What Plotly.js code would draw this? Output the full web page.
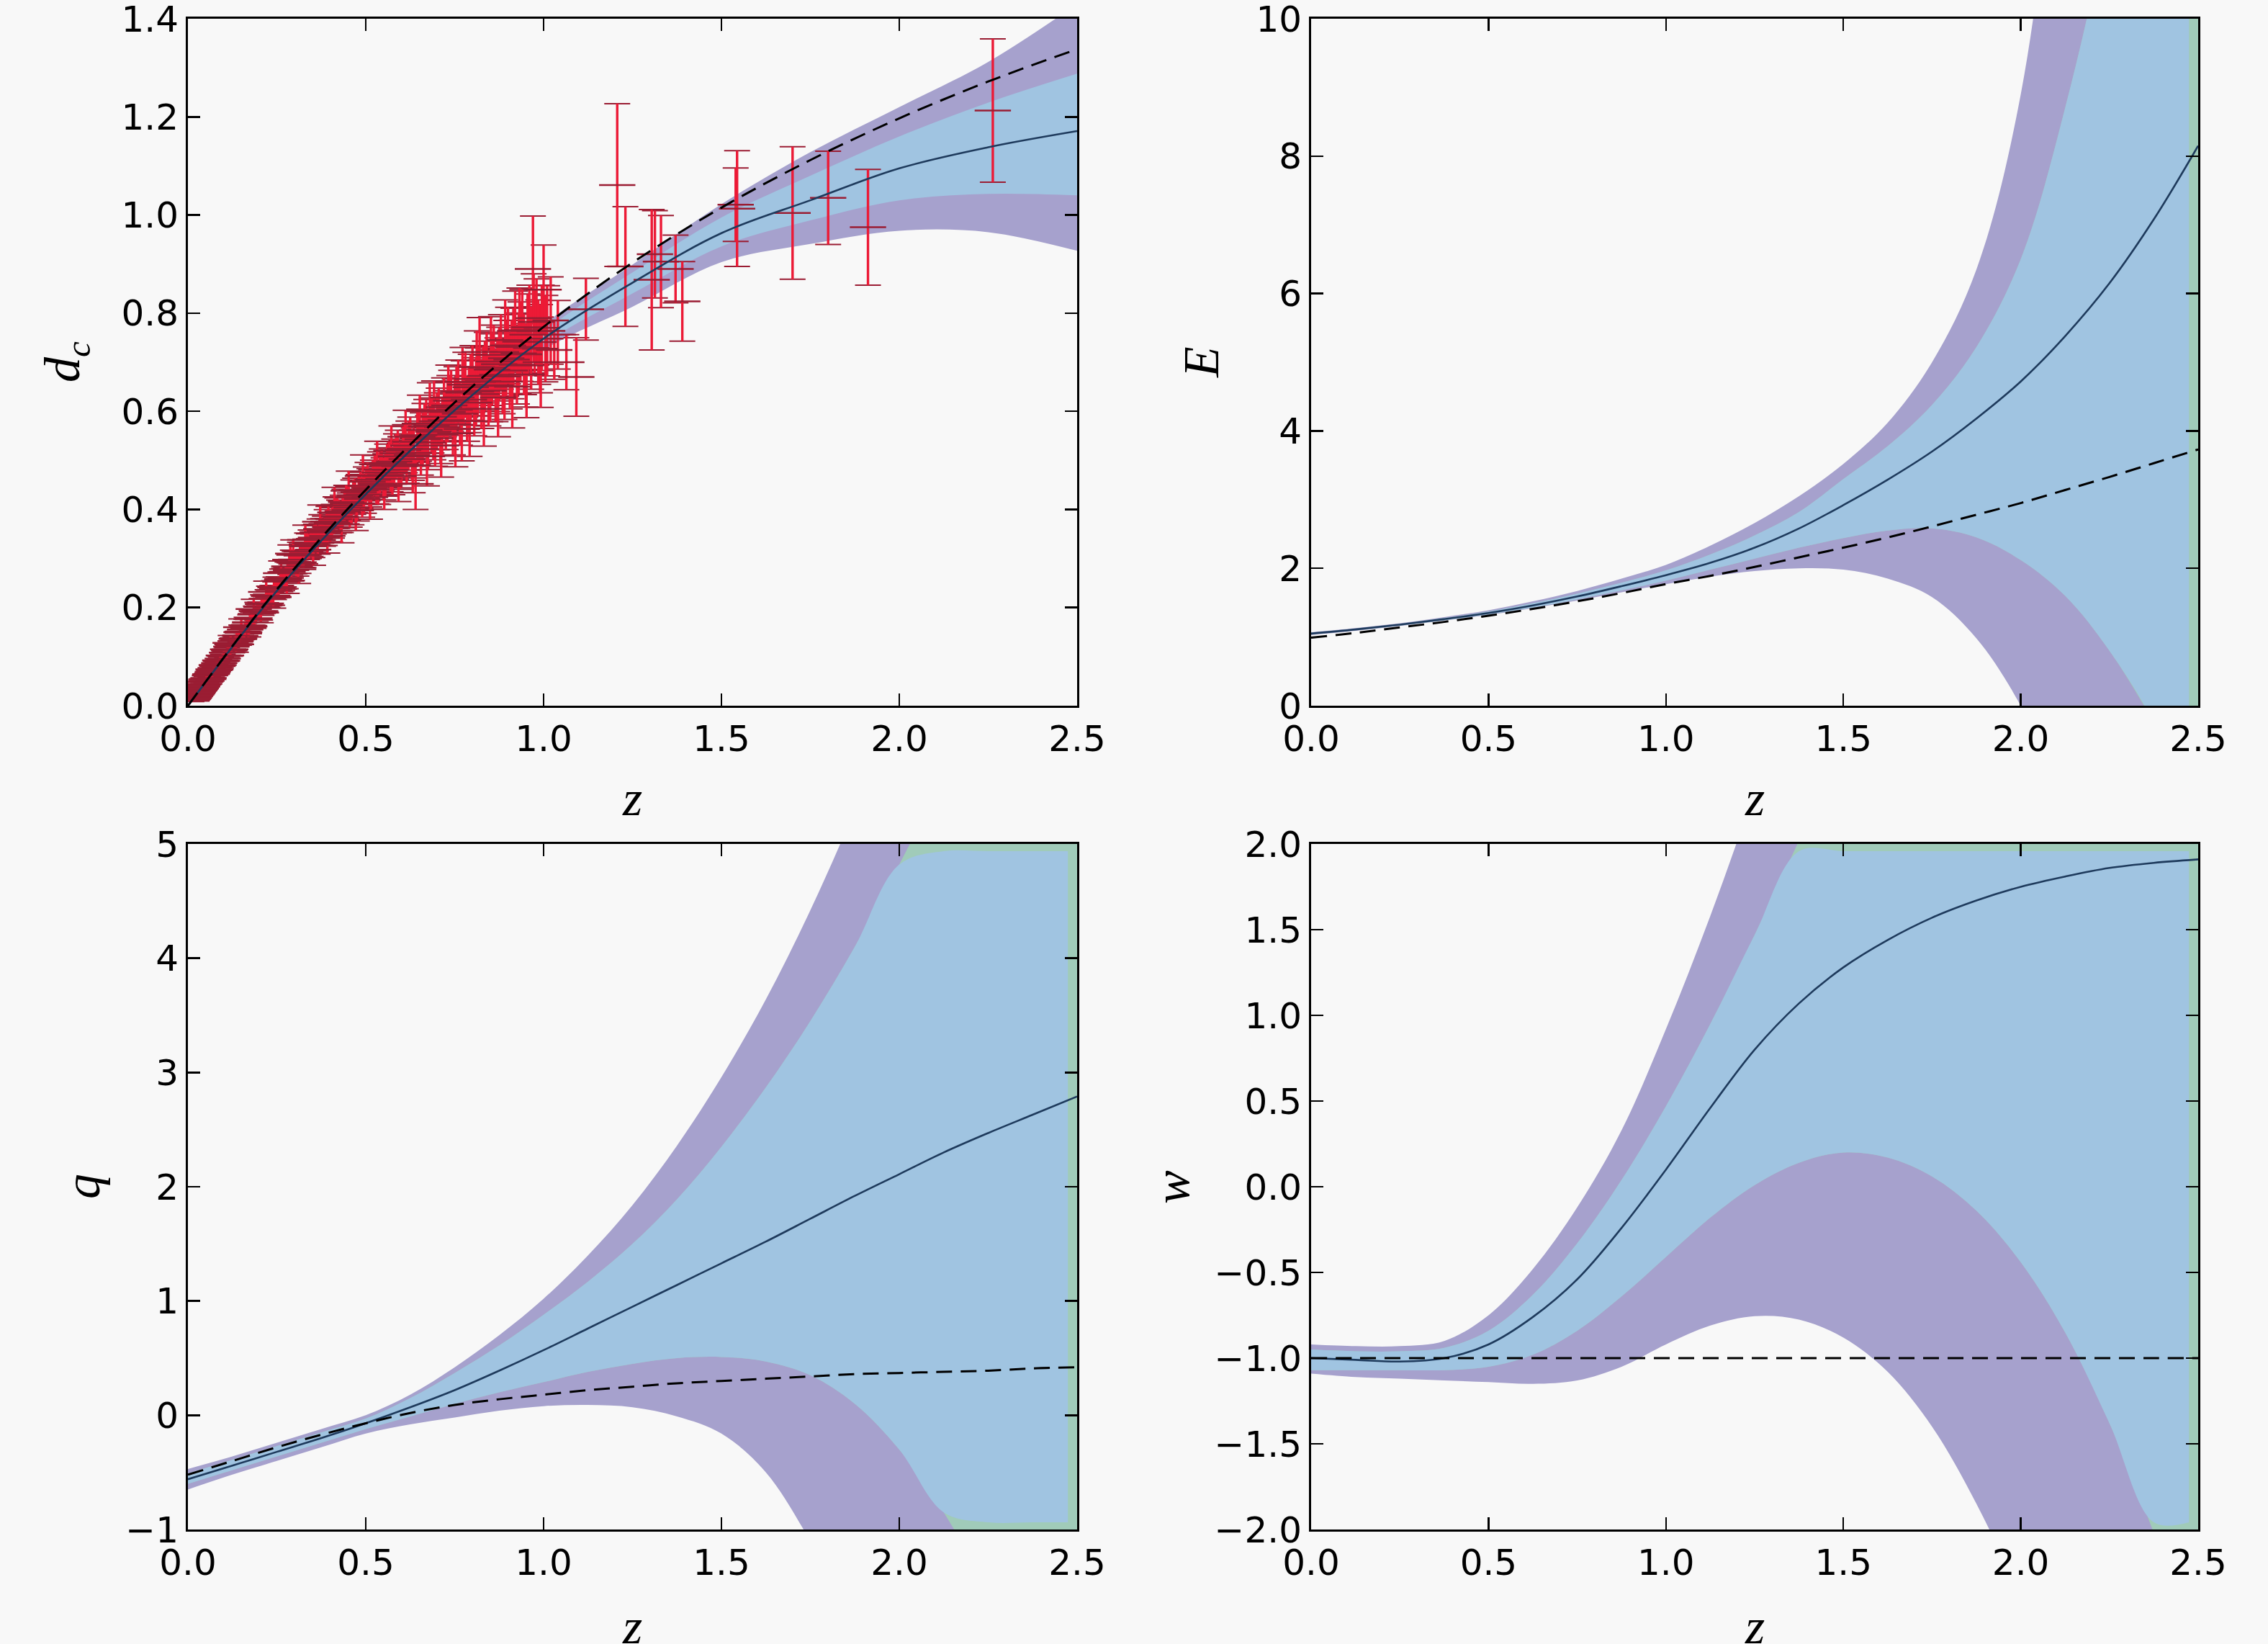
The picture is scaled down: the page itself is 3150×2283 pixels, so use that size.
<!DOCTYPE html>
<html><head><meta charset="utf-8">
<script src="https://cdn.plot.ly/plotly-3.0.1.min.js"></script>
<style>html,body{margin:0;padding:0;background:#f8f8f8;} #chart{width:3150px;height:2283px;}</style>
</head><body><div id="chart"></div>
<script>
// ---------- tick values ----------
const zTicks = [0, 0.5, 1.0, 1.5, 2.0, 2.5];
const dcTicks = [0, 0.2, 0.4, 0.6, 0.8, 1.0, 1.2, 1.4];
const eTicks = [0, 2, 4, 6, 8, 10];
const qTicks = [-1, 0, 1, 2, 3, 4, 5];
const wTicks = [-2, -1.5, -1, -0.5, 0, 0.5, 1, 1.5, 2];

// ---------- d_c panel ----------
const zDc      = [0, 0.25, 0.5, 0.75, 1.0, 1.25, 1.5, 1.75, 2.0, 2.25, 2.5];
const dcDash   = [0, 0.237, 0.440, 0.618, 0.772, 0.903, 1.015, 1.112, 1.197, 1.272, 1.338];
const dcSolid  = [0, 0.234, 0.431, 0.602, 0.748, 0.862, 0.963, 1.030, 1.095, 1.138, 1.171];
const dcUp2    = [0.004, 0.240, 0.441, 0.612, 0.777, 0.899, 1.022, 1.128, 1.220, 1.312, 1.430];
const dcUp1    = [0.002, 0.237, 0.436, 0.607, 0.763, 0.883, 0.995, 1.080, 1.160, 1.229, 1.288];
const dcLo1    = [-0.002, 0.231, 0.426, 0.597, 0.738, 0.840, 0.936, 0.989, 1.030, 1.043, 1.040];
const dcLo2    = [-0.004, 0.228, 0.421, 0.592, 0.725, 0.813, 0.904, 0.941, 0.968, 0.965, 0.927];

// data points (z, d_c, error)
const snZ = [0.010,0.012,0.014,0.015,0.016,0.017,0.019,0.020,0.022,0.023,0.025,0.026,0.028,0.030,0.032,0.034,0.036,0.038,0.040,0.043,0.046,0.049,0.052,0.055,0.058,0.062,0.066,0.070,0.074,0.078,0.083,0.088,0.093,0.098,
0.104,0.110,0.116,0.122,0.128,0.134,0.140,0.147,0.154,0.161,0.168,0.175,0.183,0.191,0.199,0.207,0.215,0.224,0.233,0.242,0.251,0.260,0.270,0.280,0.290,0.300,0.311,0.320,0.330,
0.340,0.350,0.360,0.370,0.380,0.390,0.400,0.410,0.420,0.430,0.440,0.450,0.460,0.470,0.480,0.490,0.500,0.510,0.520,0.530,0.540,0.550,0.560,0.570,0.580,0.590,0.600,
0.610,0.620,0.630,0.640,0.650,0.660,0.670,0.680,0.690,0.700,0.710,0.720,0.730,0.740,0.750,0.760,0.770,0.780,0.790,0.800,0.810,0.820,0.830,0.840,0.850,0.860,0.870,0.880,0.890,0.900,0.910,0.920,0.930,0.940,0.950,0.960,0.970,0.980,0.990,1.000,1.010,1.030,
1.064,1.092,1.119,1.207,1.230,1.304,1.313,1.330,1.371,1.390,1.540,1.544,1.700,1.800,1.912,2.263,
0.052,0.057,0.063,0.068,0.072,0.077,0.081,0.086,0.091,0.096,0.101,0.107,0.113,0.119,0.125,0.131,0.137,0.144,0.151,0.158,0.165,0.172,0.179,0.187,0.195,0.203,0.211,0.219,0.228,0.237,0.246,0.255,0.265,0.275,0.285,0.288,0.295,
0.305,0.315,0.325,0.335,0.345,0.355,0.365,0.375,0.385,0.395,0.405,0.415,0.425,0.435,0.445,0.455,0.465,0.475,0.485,0.495,0.505,0.515,0.525,0.535,0.545,0.555,0.565,0.575,0.585,0.595,
0.605,0.615,0.625,0.635,0.645,0.655,0.665,0.675,0.685,0.695,0.705,0.715,0.725,0.735,0.745,0.755,0.765,0.775,0.785,0.795,0.805,0.815,0.825,0.835,0.845,0.855,0.865,0.875,0.885,0.895,0.905,0.915,0.925,0.935,0.945,0.955,0.965,0.975,0.985,0.995,1.005,1.020,1.040,
0.120,0.135,0.150,0.170,0.185,0.205,0.220,0.240,0.262,0.278,0.296,0.310,0.330,0.352,0.372,0.392,0.412,0.432,0.452,0.472,0.492,0.512,0.532,0.552,0.572,0.592,0.612,0.632,0.652,0.672,0.692,0.712,0.732,0.752,0.772,0.792,0.812,0.832,0.852,0.872,0.892,0.912,0.932,0.952,0.972,0.992];
const snD = [0.0098,0.0121,0.0137,0.0152,0.0160,0.0166,0.0190,0.0197,0.0221,0.0225,0.0247,0.0262,0.0274,0.0301,0.0312,0.0339,0.0352,0.0381,0.0392,0.0428,0.0449,0.0489,0.0508,0.0548,0.0566,0.0615,0.0643,0.0694,0.0722,0.0771,0.0806,0.0869,0.0905,0.0962,
0.1012,0.1081,0.1127,0.1203,0.1235,0.1318,0.1362,0.1428,0.1510,0.1553,0.1638,0.1702,0.1761,0.1870,0.1918,0.2013,0.2062,0.2181,0.2227,0.2356,0.2395,0.2527,0.2586,0.2728,0.2763,0.2918,0.2925,0.3058,0.3143,
0.3252,0.3281,0.3427,0.3535,0.3532,0.3706,0.3642,0.3801,0.3925,0.3848,0.4081,0.4125,0.4036,0.4287,0.4352,0.4211,0.4483,0.4440,0.4605,0.4524,0.4752,0.4623,0.4890,0.4808,0.4975,0.5142,0.4921,
0.5236,0.5301,0.5104,0.4520,0.5512,0.5428,0.5690,0.6021,0.5583,0.5796,0.5524,0.6082,0.5988,0.6215,0.6030,0.6405,0.5640,0.6541,0.6236,0.6658,0.6402,0.7210,0.6612,0.6890,0.6520,0.7015,0.6744,0.7210,0.6602,0.7340,0.7055,0.7640,0.7181,0.7650,0.6935,0.7712,0.8900,0.7820,0.7275,0.8480,0.7640,0.7250,
0.700,0.670,0.808,1.061,0.895,0.868,0.920,0.905,0.890,0.824,1.021,1.013,1.004,1.035,0.975,1.213,
0.0536,0.0540,0.0642,0.0655,0.0741,0.0738,0.0830,0.0828,0.0925,0.0918,0.1025,0.1022,0.1150,0.1148,0.1248,0.1256,0.1362,0.1375,0.1495,0.1502,0.1640,0.1628,0.1765,0.1782,0.1925,0.1928,0.2071,0.2082,0.2235,0.2246,0.2410,0.2418,0.2565,0.2605,0.2840,0.2975,0.2930,
0.2890,0.3082,0.3075,0.3250,0.3312,0.3401,0.3380,0.3602,0.3565,0.3752,0.3725,0.3935,0.3860,0.3960,0.4150,0.3988,0.4250,0.4125,0.4390,0.4302,0.4565,0.4410,0.4690,0.4512,0.4810,0.4701,0.4945,0.4750,0.5080,0.4880,
0.5210,0.5025,0.5380,0.5150,0.5480,0.5230,0.5620,0.5360,0.5710,0.5450,0.5890,0.5680,0.5820,0.6120,0.5730,0.6280,0.5950,0.6380,0.6050,0.6490,0.6180,0.6600,0.6350,0.6720,0.6420,0.6850,0.6530,0.6960,0.6710,0.7080,0.6830,0.7310,0.6950,0.7420,0.7160,0.7560,0.7290,0.7630,0.7410,0.7700,0.7480,0.7850,0.7560,
0.128,0.125,0.160,0.158,0.197,0.190,0.232,0.222,0.270,0.255,0.310,0.278,0.338,0.318,0.375,0.346,0.408,0.370,0.438,0.398,0.468,0.425,0.492,0.448,0.520,0.468,0.548,0.490,0.575,0.508,0.600,0.530,0.628,0.555,0.660,0.580,0.690,0.605,0.715,0.628,0.745,0.650,0.765,0.675,0.790,0.700];
const snE = [0.0015,0.0016,0.0018,0.0018,0.0020,0.0020,0.0022,0.0022,0.0025,0.0025,0.0028,0.0028,0.0030,0.0032,0.0034,0.0036,0.0038,0.0040,0.0042,0.0045,0.0048,0.0050,0.0052,0.0055,0.0058,0.0060,0.0064,0.0068,0.0070,0.0074,0.0078,0.0082,0.0086,0.0090,
0.009,0.010,0.010,0.011,0.011,0.012,0.012,0.013,0.013,0.014,0.014,0.015,0.015,0.016,0.016,0.017,0.017,0.018,0.018,0.019,0.019,0.020,0.021,0.021,0.022,0.023,0.023,0.024,0.025,
0.025,0.026,0.027,0.027,0.028,0.029,0.030,0.030,0.031,0.032,0.033,0.034,0.035,0.035,0.036,0.037,0.038,0.039,0.040,0.041,0.042,0.043,0.044,0.045,0.046,0.047,0.048,
0.049,0.050,0.051,0.052,0.053,0.054,0.055,0.056,0.057,0.058,0.059,0.060,0.061,0.062,0.063,0.064,0.065,0.066,0.067,0.068,0.069,0.070,0.071,0.072,0.073,0.074,0.075,0.076,0.077,0.078,0.080,0.081,0.082,0.083,0.085,0.086,0.108,0.088,0.090,0.091,0.092,0.060,
0.056,0.080,0.063,0.166,0.122,0.143,0.089,0.094,0.069,0.081,0.075,0.118,0.135,0.095,0.118,0.146,
0.006,0.006,0.007,0.007,0.008,0.008,0.009,0.009,0.010,0.010,0.011,0.011,0.012,0.012,0.013,0.013,0.014,0.014,0.015,0.015,0.016,0.016,0.017,0.017,0.018,0.018,0.019,0.019,0.020,0.020,0.021,0.021,0.022,0.022,0.023,0.030,0.024,
0.025,0.025,0.026,0.027,0.027,0.028,0.029,0.029,0.030,0.031,0.031,0.032,0.033,0.033,0.034,0.035,0.035,0.036,0.037,0.038,0.039,0.040,0.041,0.041,0.042,0.043,0.044,0.045,0.046,0.047,
0.048,0.049,0.050,0.051,0.052,0.053,0.054,0.055,0.056,0.057,0.058,0.059,0.060,0.061,0.062,0.063,0.064,0.065,0.066,0.067,0.068,0.069,0.070,0.071,0.072,0.073,0.074,0.075,0.076,0.077,0.078,0.079,0.080,0.081,0.082,0.083,0.084,0.085,0.086,0.087,0.088,0.089,0.070,
0.015,0.016,0.017,0.018,0.020,0.021,0.022,0.023,0.025,0.026,0.028,0.029,0.030,0.032,0.034,0.035,0.037,0.038,0.040,0.041,0.043,0.045,0.047,0.048,0.050,0.052,0.054,0.056,0.058,0.060,0.062,0.064,0.066,0.068,0.070,0.072,0.074,0.076,0.078,0.080,0.082,0.084,0.086,0.088,0.090,0.092];

// ---------- E panel ----------
const zE     = [0, 0.125, 0.25, 0.375, 0.5, 0.625, 0.75, 0.875, 1.0, 1.125, 1.25, 1.375, 1.5, 1.625, 1.75, 1.875, 2.0, 2.125, 2.25, 2.375, 2.5];
const eDash  = [0.99, 1.06, 1.14, 1.22, 1.31, 1.41, 1.52, 1.64, 1.77, 1.89, 2.02, 2.16, 2.30, 2.45, 2.61, 2.78, 2.95, 3.14, 3.33, 3.53, 3.73];
const eSolid = [1.05, 1.11, 1.18, 1.26, 1.35, 1.46, 1.59, 1.74, 1.90, 2.08, 2.30, 2.58, 2.92, 3.29, 3.70, 4.18, 4.72, 5.38, 6.15, 7.08, 8.15];
const eUp2   = [1.07, 1.13, 1.20, 1.29, 1.39, 1.52, 1.67, 1.85, 2.05, 2.33, 2.66, 3.05, 3.52, 4.12, 5.00, 6.35, 8.90, 14.0, 21.0, 30.0, 40.0];
const eUp1   = [1.06, 1.12, 1.19, 1.275, 1.37, 1.49, 1.63, 1.79, 1.97, 2.20, 2.48, 2.82, 3.30, 3.78, 4.38, 5.22, 6.50, 8.70, 11.6, 16.0, 22.0];
const eLo1   = [1.04, 1.10, 1.17, 1.245, 1.33, 1.43, 1.55, 1.68, 1.82, 1.98, 2.14, 2.30, 2.44, 2.55, 2.58, 2.45, 2.12, 1.60, 0.80, -0.25, -1.50];
const eLo2   = [1.03, 1.09, 1.16, 1.24, 1.32, 1.42, 1.53, 1.65, 1.77, 1.88, 1.96, 2.00, 1.98, 1.85, 1.58, 0.98, 0.00, -1.40, -3.00, -4.80, -7.00];

// ---------- q panel ----------
const zQ     = [0, 0.125, 0.25, 0.375, 0.5, 0.625, 0.75, 0.875, 1.0, 1.125, 1.25, 1.375, 1.5, 1.625, 1.75, 1.875, 2.0, 2.125, 2.25, 2.375, 2.5];
const qDash  = [-0.52, -0.40, -0.28, -0.17, -0.07, 0.02, 0.09, 0.14, 0.18, 0.22, 0.25, 0.28, 0.30, 0.32, 0.34, 0.36, 0.37, 0.38, 0.39, 0.41, 0.42];
const qSolid = [-0.56, -0.44, -0.32, -0.20, -0.07, 0.07, 0.22, 0.39, 0.57, 0.76, 0.95, 1.14, 1.33, 1.52, 1.72, 1.92, 2.11, 2.30, 2.47, 2.63, 2.79];
const qUp2   = [-0.47, -0.36, -0.24, -0.12, 0.00, 0.18, 0.42, 0.70, 1.02, 1.40, 1.84, 2.36, 2.96, 3.64, 4.42, 5.30, 6.28, 7.36, 8.54, 9.80, 11.2];
const qUp1   = [-0.51, -0.39, -0.27, -0.15, -0.03, 0.15, 0.37, 0.61, 0.88, 1.17, 1.50, 1.89, 2.35, 2.87, 3.45, 4.10, 4.82, 5.60, 6.43, 7.30, 8.20];
const qLo1   = [-0.60, -0.48, -0.36, -0.24, -0.12, -0.01, 0.10, 0.20, 0.29, 0.38, 0.45, 0.50, 0.51, 0.47, 0.35, 0.10, -0.30, -0.85, -1.55, -2.35, -3.20];
const qLo2   = [-0.65, -0.52, -0.40, -0.28, -0.16, -0.08, -0.02, 0.04, 0.08, 0.09, 0.07, -0.01, -0.16, -0.50, -1.10, -1.80, -2.60, -3.50, -4.50, -5.70, -7.00];

// ---------- w panel ----------
const zW     = [0, 0.125, 0.25, 0.375, 0.5, 0.625, 0.75, 0.875, 1.0, 1.125, 1.25, 1.375, 1.5, 1.625, 1.75, 1.875, 2.0, 2.125, 2.25, 2.375, 2.5];
const wDash  = [-1, -1, -1, -1, -1, -1, -1, -1, -1, -1, -1, -1, -1, -1, -1, -1, -1, -1, -1, -1, -1];
const wSolid = [-1.0, -1.01, -1.02, -1.0, -0.92, -0.76, -0.54, -0.24, 0.10, 0.46, 0.80, 1.07, 1.28, 1.44, 1.57, 1.67, 1.75, 1.81, 1.86, 1.89, 1.91];
const wUp2   = [-0.92, -0.93, -0.93, -0.90, -0.75, -0.48, -0.12, 0.33, 0.92, 1.58, 2.30, 3.00, 3.70, 4.45, 5.30, 6.20, 7.10, 8.00, 9.00, 10.0, 11.0];
const wUp1   = [-0.95, -0.96, -0.96, -0.94, -0.84, -0.63, -0.33, 0.04, 0.47, 0.95, 1.47, 2.02, 2.60, 3.20, 3.80, 4.40, 5.00, 5.60, 6.20, 6.80, 7.40];
const wLo1   = [-1.07, -1.07, -1.07, -1.07, -1.05, -0.98, -0.84, -0.64, -0.41, -0.18, 0.01, 0.14, 0.20, 0.17, 0.06, -0.14, -0.44, -0.85, -1.38, -2.02, -2.75];
const wLo2   = [-1.09, -1.11, -1.12, -1.13, -1.14, -1.15, -1.13, -1.05, -0.92, -0.81, -0.755, -0.775, -0.88, -1.08, -1.40, -1.85, -2.40, -3.05, -3.80, -4.60, -5.50];

// ---------- styles ----------
const C = {bg:'#f8f8f8', purple:'#a6a1cd', blue:'#a0c4e1', green:'#a0cbb9',
           solid:'#1e3a5c', dash:'#000000', stem:'#ec1a36', cap:'#9a1d33'};

const traces = [];
function addBands(n, z, u2, u1, l1, l2, yr, strip) {
  const xa = n === 1 ? 'x' : 'x' + n, ya = n === 1 ? 'y' : 'y' + n;
  const base = {xaxis: xa, yaxis: ya, mode: 'lines', hoverinfo: 'skip', showlegend: false};
  const sp = c => ({shape: 'spline', smoothing: 1, width: 0, color: c});
  traces.push({...base, x: z, y: l2, line: sp(C.purple)});
  traces.push({...base, x: z, y: u2, line: sp(C.purple), fill: 'tonexty', fillcolor: C.purple});
  let zb = z, u1b = u1, l1b = l1;
  if (strip) {
    traces.push({...base, x: z, y: l1, line: sp(C.green)});
    traces.push({...base, x: z, y: u1, line: sp(C.green), fill: 'tonexty', fillcolor: C.green});
    const zmax = z[z.length - 1];
    zb = z.map(v => Math.min(v, zmax - strip.right));
    if (strip.top > 0) {
      const span = yr[1] - yr[0];
      u1b = u1.map(v => Math.min(v, yr[1] - strip.top * span));
      l1b = l1.map(v => Math.max(v, yr[0] + strip.top * span));
    }
  }
  traces.push({...base, x: zb, y: l1b, line: sp(C.blue)});
  traces.push({...base, x: zb, y: u1b, line: sp(C.blue), fill: 'tonexty', fillcolor: C.blue});
}
function addLines(n, z, solid, dash) {
  const xa = n === 1 ? 'x' : 'x' + n, ya = n === 1 ? 'y' : 'y' + n;
  const base = {xaxis: xa, yaxis: ya, mode: 'lines', hoverinfo: 'skip', showlegend: false};
  traces.push({...base, x: z, y: solid, line: {shape: 'spline', smoothing: 1, width: 2.6, color: C.solid}});
  traces.push({...base, x: z, y: dash, line: {shape: 'spline', smoothing: 1, width: 3, color: C.dash, dash: '22px,12px'}});
}

// panel 1: d_c
addBands(1, zDc, dcUp2, dcUp1, dcLo1, dcLo2, [0, 1.4], null);
traces.push({xaxis: 'x', yaxis: 'y', x: snZ, y: snD, mode: 'markers', hoverinfo: 'skip', showlegend: false,
  marker: {size: 2, color: C.cap},
  error_y: {type: 'data', array: snE, visible: true, color: C.cap, thickness: 2, width: 18}});
traces.push({xaxis: 'x', yaxis: 'y', x: snZ, y: snD, mode: 'markers', hoverinfo: 'skip', showlegend: false,
  marker: {symbol: 'line-ew', size: 36, color: C.cap, line: {width: 2.5, color: C.cap}},
  error_y: {type: 'data', array: snE, visible: true, color: C.stem, thickness: 3.4, width: 0}});
addLines(1, zDc, dcSolid, dcDash);

// panel 2: E
addBands(2, zE, eUp2, eUp1, eLo1, eLo2, [0, 10], {right: 0.026, top: 0});
addLines(2, zE, eSolid, eDash);
// panel 3: q
addBands(3, zQ, qUp2, qUp1, qLo1, qLo2, [-1, 5], {right: 0.026, top: 0.0105});
addLines(3, zQ, qSolid, qDash);
// panel 4: w
addBands(4, zW, wUp2, wUp1, wLo1, wLo2, [-2, 2], {right: 0.026, top: 0.0105});
addLines(4, zW, wSolid, wDash);

// ---------- axes ----------
const tickFont = {family: 'DejaVu Sans', size: 50, color: '#000'};
function axis(extra) {
  return Object.assign({ticks: 'inside', ticklen: 17, tickwidth: 2.5, tickcolor: '#000',
    mirror: 'allticks', showline: true, linecolor: '#000', linewidth: 3,
    showgrid: false, zeroline: false, tickfont: tickFont, tickmode: 'array',
    ticklabeloverflow: 'allow', fixedrange: true}, extra);
}
const xL = [0.08286, 0.47492], xR = [0.57810, 0.96921];
const yT = [0.57074, 0.98861], yB = [0.06964, 0.48664];
const xCommon = {range: [0, 2.5], tickvals: zTicks, tickformat: '.1f'};

const titleFont = {family: 'Liberation Serif', size: 70, color: '#000'};
function ann(text, x, y, rot) {
  return {text: text, x: x / 3150, y: 1 - y / 2283, xref: 'paper', yref: 'paper', showarrow: false,
    xanchor: 'center', yanchor: 'middle', textangle: rot, font: titleFont};
}

const layout = {
  width: 3150, height: 2283, margin: {l: 0, r: 0, t: 0, b: 0},
  paper_bgcolor: C.bg, plot_bgcolor: C.bg, showlegend: false,
  xaxis:  axis({...xCommon, domain: xL, anchor: 'y'}),
  yaxis:  axis({domain: yT, anchor: 'x', range: [0, 1.4], tickvals: dcTicks, tickformat: '.1f'}),
  xaxis2: axis({...xCommon, domain: xR, anchor: 'y2'}),
  yaxis2: axis({domain: yT, anchor: 'x2', range: [0, 10], tickvals: eTicks, tickformat: 'd'}),
  xaxis3: axis({...xCommon, domain: xL, anchor: 'y3'}),
  yaxis3: axis({domain: yB, anchor: 'x3', range: [-1, 5], tickvals: qTicks, tickformat: 'd'}),
  xaxis4: axis({...xCommon, domain: xR, anchor: 'y4'}),
  yaxis4: axis({domain: yB, anchor: 'x4', range: [-2, 2], tickvals: wTicks, tickformat: '.1f'}),
  annotations: [
    ann('<i>z</i>', 878, 1108, 0),
    ann('<i>z</i>', 2437, 1108, 0),
    ann('<i>z</i>', 878, 2258, 0),
    ann('<i>z</i>', 2437, 2258, 0),
    ann('<i>d</i><sub><i>c</i></sub>', 92, 503, -90),
    ann('<i>E</i>', 1668, 503, -90),
    ann('<i>q</i>', 114, 1648, -90),
    ann('<i>w</i>', 1627, 1648, -90)
  ]
};

Plotly.newPlot('chart', traces, layout, {staticPlot: true, displayModeBar: false});
</script></body></html>
